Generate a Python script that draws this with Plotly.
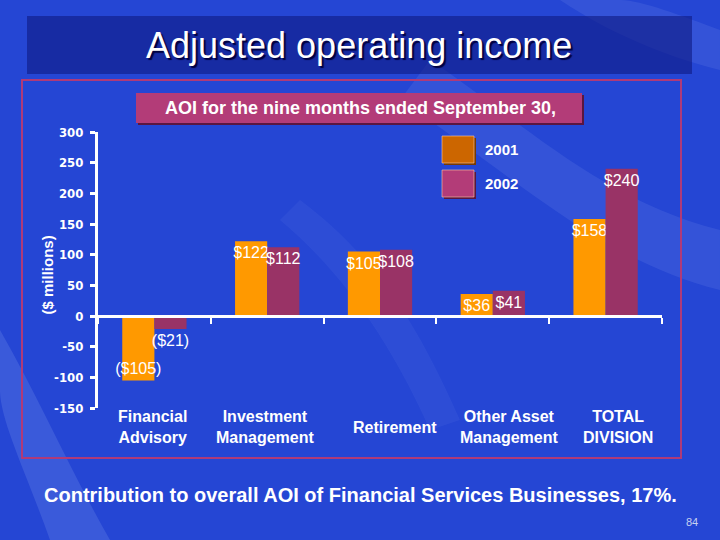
import plotly.graph_objects as go

# AOI for the nine months ended September 30 ($ millions)
categories = ['Financial<br>Advisory', 'Investment<br>Management', 'Retirement',
              'Other Asset<br>Management', 'TOTAL<br>DIVISION']
aoi_2001 = [-105, 122, 105, 36, 158]
aoi_2002 = [-21, 112, 108, 41, 240]
y_ticks = [-150, -100, -50, 0, 50, 100, 150, 200, 250, 300]
y_ticktext = ['-150', '-100', '-50', '0', '50', '100', '150', '200', '250', '300']

W, H = 720, 540
ML, MR, MT, MB = 98, 58, 132, 132
PW, PH = W - ML - MR, H - MT - MB
Y_MIN, Y_MAX = -150, 300

ORANGE = '#FF9900'
PLUM = '#993366'
WHITE = 'white'
SANS = 'Liberation Sans, Arial, sans-serif'
NARROW = 'Liberation Sans Narrow, DejaVu Sans Condensed, Arial Narrow, Liberation Sans, sans-serif'


def fmt(v):
    return '(${})'.format(-v) if v < 0 else '${}'.format(v)


def px(x):
    # pixel -> paper x
    return (x - ML) / PW


def py(y):
    # pixel -> paper y
    return (H - MB - y) / PH


fig = go.Figure()

fig.add_trace(go.Bar(
    x=categories, y=aoi_2001, name='2001', marker=dict(color=ORANGE, line=dict(width=0)),
    text=[fmt(v) for v in aoi_2001], textposition='inside', insidetextanchor='end',
    textangle=0, constraintext='none', textfont=dict(family=SANS, size=16, color=WHITE),
))
fig.add_trace(go.Bar(
    x=categories, y=aoi_2002, name='2002', marker=dict(color=PLUM, line=dict(width=0)),
    text=[fmt(v) for v in aoi_2002],
    textposition=['outside' if abs(v) < 30 else 'inside' for v in aoi_2002],
    insidetextanchor='end', textangle=0, constraintext='none',
    textfont=dict(family=SANS, size=16, color=WHITE), cliponaxis=False,
))

shapes = []

# soft light streaks in the background (pixel paths, converted to paper below)
streaks = [
    ('M 430 60 C 520 120 600 200 720 230 L 720 290 C 600 260 520 180 400 100 Z', 0.10),
    ('M 0 330 C 40 400 70 470 110 540 L 50 540 C 25 470 0 420 0 390 Z', 0.14),
    ('M 300 200 C 380 260 420 330 460 420 L 430 430 C 390 340 340 270 280 220 Z', 0.06),
    ('M 560 0 C 620 40 680 60 720 70 L 720 30 C 680 15 640 0 620 0 Z', 0.10),
]
for path, op in streaks:
    out, nums = [], []
    for p in path.split():
        try:
            nums.append(float(p))
        except ValueError:
            out.append(p)
            continue
        if len(nums) == 2:
            out.append('{:.4f},{:.4f}'.format(px(nums[0]), py(nums[1])))
            nums = []
    shapes.append(dict(type='path', xref='paper', yref='paper', layer='below',
                       path=' '.join(out), fillcolor='rgba(190,210,255,{})'.format(op),
                       line=dict(width=0)))

# title band
shapes.append(dict(type='rect', xref='paper', yref='paper', layer='below',
                   x0=px(27), x1=px(692), y0=py(74), y1=py(16),
                   fillcolor='rgba(15,25,130,0.6)', line=dict(width=0)))
# chart frame
shapes.append(dict(type='rect', xref='paper', yref='paper', layer='below',
                   x0=px(22), x1=px(681), y0=py(458), y1=py(80),
                   fillcolor='rgba(0,0,0,0)', line=dict(color='#B03A78', width=2)))
# subtitle box with shadow
shapes.append(dict(type='rect', xref='paper', yref='paper', layer='below',
                   x0=px(138), x1=px(584), y0=py(125), y1=py(95),
                   fillcolor='#5A1640', line=dict(width=0)))
shapes.append(dict(type='rect', xref='paper', yref='paper', layer='below',
                   x0=px(136), x1=px(582), y0=py(123), y1=py(93),
                   fillcolor='#B33C78', line=dict(width=0)))

# legend swatches
legend_items = [('2001', '#CC6600', '#7A3A00', 136), ('2002', '#B33C78', '#5A1640', 170)]
annotations = []
for label, col, shade, top in legend_items:
    shapes.append(dict(type='rect', xref='paper', yref='paper',
                       x0=px(444), x1=px(476), y0=py(top + 29), y1=py(top + 2),
                       fillcolor=shade, line=dict(width=0)))
    shapes.append(dict(type='rect', xref='paper', yref='paper',
                       x0=px(442), x1=px(474), y0=py(top + 27), y1=py(top),
                       fillcolor=col, line=dict(color='rgba(255,200,160,0.6)', width=1)))
    annotations.append(dict(xref='paper', yref='paper', x=px(483), y=py(top + 13),
                            xanchor='left', yanchor='middle', showarrow=False, text=label,
                            font=dict(family=SANS, size=15, color=WHITE, weight='bold')))

# category labels under the plot
label_shift = [-2, -2, 15, 16, 12]
for cat, dx in zip(categories, label_shift):
    annotations.append(dict(xref='x', yref='y', x=cat, y=Y_MIN, yshift=-19, xshift=dx,
                            xanchor='center', yanchor='middle', showarrow=False, text=cat,
                            font=dict(family=SANS, size=16, color=WHITE, weight='bold')))

annotations += [
    dict(xref='paper', yref='paper', x=px(359), y=py(46), showarrow=False,
         xanchor='center', yanchor='middle', text='Adjusted operating income',
         font=dict(family=SANS, size=36, color=WHITE, shadow='2px 2px 1px #000040')),
    dict(xref='paper', yref='paper', x=px(360), y=py(108), showarrow=False,
         xanchor='center', yanchor='middle', text='AOI for the nine months ended September 30,',
         font=dict(family=SANS, size=18, color=WHITE, weight='bold')),
    dict(xref='paper', yref='paper', x=px(48), y=0.48, showarrow=False, textangle=-90,
         xanchor='center', yanchor='middle', text='($ millions)',
         font=dict(family=SANS, size=15, color=WHITE, weight='bold')),
    dict(xref='paper', yref='paper', x=px(360), y=py(495), showarrow=False,
         xanchor='center', yanchor='middle',
         text='Contribution to overall AOI of Financial Services Businesses, 17%.',
         font=dict(family=SANS, size=20, color=WHITE, weight='bold')),
    dict(xref='paper', yref='paper', x=px(692), y=py(522), showarrow=False,
         xanchor='center', yanchor='middle', text='84',
         font=dict(family=SANS, size=11, color='#C8D0F0')),
]

fig.update_layout(
    width=W, height=H, autosize=False,
    margin=dict(l=ML, r=MR, t=MT, b=MB),
    paper_bgcolor='#2546D4', plot_bgcolor='rgba(0,0,0,0)',
    barmode='group', bargap=0.43, bargroupgap=0,
    showlegend=False,
    shapes=shapes, annotations=annotations,
    xaxis=dict(type='category', range=[-0.5, len(categories) - 0.5],
               anchor='free', position=(0 - Y_MIN) / (Y_MAX - Y_MIN),
               showline=True, linecolor=WHITE, linewidth=3, layer='above traces',
               ticks='outside', tickson='boundaries', ticklen=6, tickwidth=2, tickcolor=WHITE,
               showticklabels=False, showgrid=False, zeroline=False),
    yaxis=dict(range=[Y_MIN, Y_MAX], tickvals=y_ticks, ticktext=y_ticktext,
               showline=True, linecolor=WHITE,
               linewidth=3, ticks='outside', ticklen=5, tickwidth=3, tickcolor=WHITE,
               ticklabelstandoff=4,
               tickfont=dict(family=NARROW, size=13, color=WHITE, weight='bold'),
               showgrid=False, zeroline=False),
)

fig.write_html('out.html', config={'displayModeBar': False},
               post_script="document.body.style.margin='0';")
